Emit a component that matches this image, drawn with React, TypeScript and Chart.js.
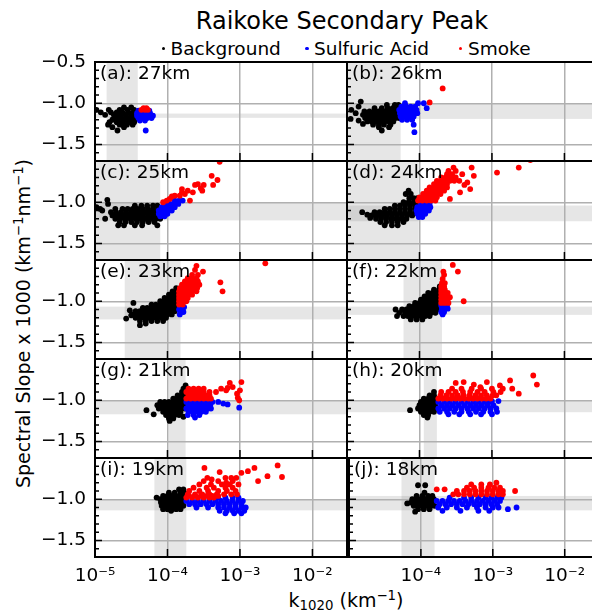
import { useEffect, useRef } from "react"
import { Chart, registerables } from "chart.js"

Chart.register(...registerables)
Chart.defaults.font.family = '"DejaVu Sans", sans-serif'

// each row: [slope, log10(k1020), log10(k1020), ...]
type Row = number[]

// ---- (a) 27 km
const bgA: Row[] = [
  [-1.05, -4.6, -4.5],
  [-1.08, -4.98, -4.81, -4.66, -4.55, -4.46],
  [-1.11, -4.92, -4.78, -4.7, -4.62, -4.54, -4.47],
  [-1.14, -4.86, -4.74, -4.66, -4.58, -4.5, -4.43],
  [-1.17, -4.72, -4.64, -4.56, -4.48, -4.42],
  [-1.2, -4.76, -4.68, -4.6, -4.52, -4.45],
  [-1.23, -4.8, -4.7, -4.62, -4.54, -4.46],
  [-1.26, -4.82, -4.66, -4.56, -4.48],
  [-1.29, -4.76, -4.6],
  [-1.33, -4.69],
]
const acidA: Row[] = [
  [-1.09, -4.4, -4.32, -4.25],
  [-1.12, -4.42, -4.36, -4.3, -4.24],
  [-1.15, -4.42, -4.36, -4.3, -4.24, -4.2],
  [-1.18, -4.4, -4.34, -4.28, -4.22],
  [-1.21, -4.38, -4.31],
  [-1.33, -4.3],
]
const smokeA: Row[] = [
  [-1.06, -4.33, -4.29],
  [-1.08, -4.36, -4.31, -4.27],
]

// ---- (b) 26 km
const bgB: Row[] = [
  [-0.98, -4.81],
  [-1.02, -4.45, -4.34, -4.29],
  [-1.04, -4.84],
  [-1.06, -4.62, -4.52, -4.44, -4.37, -4.31, -4.27],
  [-1.08, -4.94],
  [-1.1, -4.76, -4.69, -4.62, -4.56, -4.5, -4.44, -4.38, -4.32, -4.27],
  [-1.12, -4.88],
  [-1.14, -4.78, -4.72, -4.66, -4.6, -4.54, -4.48, -4.42, -4.36, -4.3],
  [-1.18, -4.75, -4.69, -4.63, -4.57, -4.51, -4.45, -4.39, -4.33, -4.28],
  [-1.19, -4.95],
  [-1.21, -4.84],
  [-1.22, -4.72, -4.66, -4.6, -4.54, -4.48, -4.42, -4.36],
  [-1.25, -4.78],
  [-1.26, -4.64, -4.56, -4.49, -4.4],
  [-1.29, -4.56, -4.42],
  [-1.33, -4.52],
]
const acidB: Row[] = [
  [-1.0, -4.2, -4.02, -3.94],
  [-1.04, -4.25, -4.18, -4.12, -4.06],
  [-1.06, -3.9],
  [-1.08, -4.28, -4.22, -4.16, -4.1, -4.04],
  [-1.12, -4.27, -4.21, -4.15, -4.09, -4.03],
  [-1.16, -4.26, -4.2, -4.14, -4.08],
  [-1.2, -4.24, -4.17, -4.1],
  [-1.26, -4.08],
  [-1.35, -4.07],
]
const smokeB: Row[] = [
  [-0.99, -3.86],
  [-0.82, -3.68],
]

// ---- (c) 25 km
const bgC: Row[] = [
  [-0.97, -4.83],
  [-1.02, -4.82],
  [-1.04, -4.45, -4.36, -4.28, -4.2, -4.14],
  [-1.06, -4.98],
  [-1.08, -4.93, -4.72, -4.62, -4.55, -4.48, -4.41, -4.34, -4.27, -4.2, -4.13],
  [-1.1, -4.9],
  [-1.12, -4.78, -4.71, -4.64, -4.57, -4.5, -4.43, -4.36, -4.29, -4.22, -4.15, -4.1],
  [-1.16, -4.76, -4.69, -4.62, -4.55, -4.48, -4.41, -4.34, -4.27, -4.2, -4.13],
  [-1.2, -4.86, -4.72, -4.65, -4.58, -4.51, -4.44, -4.37, -4.3, -4.23, -4.16, -4.1],
  [-1.24, -4.66, -4.58, -4.5, -4.42, -4.34, -4.26, -4.18],
  [-1.28, -4.68, -4.6, -4.45, -4.35, -4.14],
]
const acidC: Row[] = [
  [-0.98, -3.9, -3.84, -3.79],
  [-1.02, -4.02, -3.96, -3.9, -3.85],
  [-1.06, -4.08, -4.02, -3.96, -3.9],
  [-1.1, -4.12, -4.06, -4.0, -3.94],
  [-1.14, -4.12, -4.06, -4.0],
  [-1.17, -4.1, -4.04],
]
const smokeC: Row[] = [
  [-1.0, -4.06],
  [-0.98, -4.01, -3.69],
  [-0.96, -3.97],
  [-0.93, -3.94],
  [-0.92, -3.9, -3.83],
  [-0.9, -3.76],
  [-0.88, -3.8, -3.65],
  [-0.86, -3.72, -3.52],
  [-0.84, -3.8],
  [-0.83, -3.54],
  [-0.79, -3.62, -3.5, -3.37],
  [-0.78, -3.58],
  [-0.73, -3.31],
  [-0.68, -3.39],
  [-0.51, -3.28],
]

// ---- (d) 24 km
const bgD: Row[] = [
  [-0.86, -4.15],
  [-0.9, -4.19, -4.12],
  [-0.95, -4.14, -4.08, -4.03],
  [-1.0, -4.22, -4.15, -4.08, -4.03],
  [-1.04, -4.34, -4.27, -4.2, -4.13, -4.06, -4.01],
  [-1.08, -4.48, -4.41, -4.34, -4.27, -4.2, -4.13, -4.06, -4.01],
  [-1.12, -4.79, -4.62, -4.55, -4.48, -4.41, -4.34, -4.27, -4.2, -4.13, -4.06],
  [-1.15, -4.72],
  [-1.16, -4.66, -4.59, -4.52, -4.45, -4.38, -4.31, -4.24, -4.17, -4.1],
  [-1.19, -4.68],
  [-1.2, -4.6, -4.53, -4.46, -4.39, -4.32, -4.25, -4.18],
  [-1.24, -4.54, -4.46, -4.38, -4.3, -4.22],
  [-1.28, -4.48, -4.38, -4.3],
]
const acidD: Row[] = [
  [-1.02, -3.98, -3.92, -3.86],
  [-1.06, -4.03, -3.97, -3.91, -3.85],
  [-1.1, -4.04, -3.98, -3.92, -3.87],
  [-1.14, -4.03, -3.97, -3.92],
  [-1.18, -4.01, -3.96],
]
const smokeD: Row[] = [
  [-0.98, -4.02, -3.96, -3.9, -3.84, -3.78],
  [-0.96, -3.58],
  [-0.94, -4.0, -3.94, -3.88, -3.82, -3.76],
  [-0.9, -3.95, -3.89, -3.83, -3.77, -3.71],
  [-0.88, -3.44],
  [-0.86, -3.9, -3.84, -3.78, -3.72, -3.66],
  [-0.84, -3.3],
  [-0.82, -3.86, -3.8, -3.74, -3.68, -3.62],
  [-0.79, -3.38],
  [-0.78, -3.8, -3.74, -3.68, -3.62],
  [-0.76, -3.34],
  [-0.74, -3.76, -3.7, -3.64, -3.58, -3.52, -3.45],
  [-0.7, -3.7, -3.64, -3.57, -3.5],
  [-0.68, -3.25],
  [-0.66, -3.62, -3.55, -3.41],
  [-0.64, -2.93],
  [-0.62, -3.6, -3.5],
  [-0.58, -3.53, -3.28, -2.63],
  [-0.49, -2.47],
]

// ---- (e) 23 km
const bgE: Row[] = [
  [-0.84, -3.88],
  [-0.88, -3.93, -3.86],
  [-0.92, -3.98, -3.92, -3.86],
  [-0.96, -4.04, -3.98, -3.92, -3.86],
  [-1.0, -4.1, -4.04, -3.98, -3.92, -3.86],
  [-1.02, -4.47],
  [-1.04, -4.22, -4.16, -4.1, -4.04, -3.98, -3.92, -3.86],
  [-1.08, -4.34, -4.28, -4.22, -4.16, -4.1, -4.04, -3.98, -3.92, -3.86],
  [-1.11, -4.52],
  [-1.12, -4.44, -4.38, -4.32, -4.26, -4.2, -4.14, -4.08, -4.02, -3.96, -3.9],
  [-1.16, -4.48, -4.42, -4.36, -4.3, -4.24, -4.18, -4.12, -4.06, -4.0, -3.94],
  [-1.17, -4.5],
  [-1.2, -4.44, -4.38, -4.32, -4.26, -4.2, -4.14, -4.08, -4.02],
  [-1.21, -4.57],
  [-1.24, -4.38, -4.3, -4.22, -4.14, -4.06],
  [-1.27, -4.3],
  [-1.29, -4.38],
]
const acidE: Row[] = [
  [-1.07, -3.8, -3.77],
  [-1.1, -3.84, -3.79],
  [-1.13, -3.82, -3.78],
  [-1.16, -3.83],
]
const smokeE: Row[] = [
  [-1.04, -3.84, -3.79],
  [-1.0, -3.84, -3.79, -3.74],
  [-0.96, -3.84, -3.78, -3.72],
  [-0.92, -3.84, -3.78, -3.72, -3.66],
  [-0.88, -3.84, -3.78, -3.72, -3.66, -3.6, -3.24],
  [-0.84, -3.83, -3.77, -3.71, -3.65, -3.59],
  [-0.8, -3.8, -3.74, -3.68, -3.62, -3.56],
  [-0.77, -3.27],
  [-0.76, -3.76, -3.7, -3.64, -3.58],
  [-0.72, -3.72, -3.66, -3.6],
  [-0.68, -3.66, -3.58],
  [-0.64, -3.51],
  [-0.62, -3.62],
  [-0.57, -3.6],
  [-0.54, -2.65],
]

// ---- (f) 22 km
const bgF: Row[] = [
  [-0.82, -3.72],
  [-0.86, -3.8, -3.73],
  [-0.9, -3.88, -3.82, -3.75],
  [-0.94, -3.93, -3.87, -3.81, -3.75],
  [-0.98, -3.98, -3.92, -3.86, -3.8, -3.74],
  [-1.02, -4.06, -4.0, -3.94, -3.88, -3.82, -3.76, -3.71],
  [-1.06, -4.14, -4.08, -4.02, -3.96, -3.9, -3.84, -3.78, -3.72],
  [-1.1, -4.33, -4.24, -4.18, -4.12, -4.06, -4.0, -3.94, -3.88, -3.82, -3.76, -3.71],
  [-1.14, -4.28, -4.2, -4.14, -4.08, -4.02, -3.96, -3.9, -3.84, -3.78],
  [-1.18, -4.31, -4.22, -4.16, -4.1, -4.04, -3.98, -3.92, -3.86],
  [-1.22, -4.12, -4.04, -3.96],
]
const acidF: Row[] = [
  [-1.05, -3.7, -3.66, -3.62],
  [-1.09, -3.69, -3.65, -3.61],
  [-1.13, -3.7, -3.66],
  [-1.16, -3.68],
]
const smokeF: Row[] = [
  [-1.02, -3.7, -3.65, -3.6],
  [-1.0, -3.39],
  [-0.98, -3.7, -3.65, -3.61],
  [-0.95, -3.58],
  [-0.94, -3.7, -3.66, -3.62],
  [-0.9, -3.7, -3.65, -3.61],
  [-0.86, -3.7, -3.65],
  [-0.82, -3.7, -3.66],
  [-0.78, -3.69, -3.65],
  [-0.73, -3.68],
  [-0.68, -3.66],
  [-0.64, -3.67, -3.47],
  [-0.56, -3.54],
]

// ---- (g) 21 km
const bgG: Row[] = [
  [-0.82, -3.75],
  [-0.86, -3.78],
  [-0.9, -3.8, -3.76],
  [-0.94, -3.86, -3.8, -3.76],
  [-0.98, -3.92, -3.86, -3.8, -3.76],
  [-1.02, -4.1, -4.04, -3.98, -3.92, -3.86, -3.8, -3.76],
  [-1.06, -4.14, -4.08, -4.02, -3.96, -3.9, -3.84, -3.78],
  [-1.1, -4.12, -4.06, -4.0, -3.94, -3.88, -3.82, -3.76],
  [-1.12, -4.29],
  [-1.14, -4.06, -4.0, -3.94, -3.88, -3.82],
  [-1.17, -4.19],
  [-1.18, -4.02, -3.96, -3.9, -3.84],
  [-1.2, -3.78],
  [-1.22, -3.98, -3.92],
  [-1.25, -3.97],
]
const acidG: Row[] = [
  [-1.02, -3.74, -3.68, -3.62, -3.56, -3.5, -3.44, -3.38, -3.3],
  [-1.04, -3.23],
  [-1.05, -3.17],
  [-1.06, -3.71, -3.65, -3.59, -3.53, -3.47, -3.41],
  [-1.09, -3.01],
  [-1.1, -3.74, -3.68, -3.62, -3.56, -3.5, -3.44, -3.4],
  [-1.14, -3.71, -3.65, -3.59, -3.53, -3.47],
  [-1.18, -3.72, -3.64, -3.56],
  [-1.21, -3.62],
]
const smokeG: Row[] = [
  [-1.0, -3.01],
  [-0.98, -3.74, -3.68, -3.62, -3.56, -3.5, -3.44, -3.4],
  [-0.97, -3.03],
  [-0.94, -3.71, -3.65, -3.59, -3.53, -3.47, -3.42],
  [-0.92, -3.04],
  [-0.9, -3.74, -3.68, -3.62, -3.56, -3.5, -3.42, -3.33],
  [-0.88, -3.19, -3.0],
  [-0.86, -3.71, -3.64, -3.57, -3.5, -3.26],
  [-0.85, -3.17],
  [-0.84, -3.1],
  [-0.79, -3.14],
  [-0.78, -2.98],
]

// ---- (h) 20 km
const bgH: Row[] = [
  [-0.9, -3.8],
  [-0.94, -3.86, -3.8],
  [-0.98, -3.94, -3.88, -3.82, -3.78],
  [-1.02, -3.98, -3.92, -3.86, -3.8],
  [-1.06, -4.0, -3.94, -3.88, -3.82, -3.78],
  [-1.1, -4.02, -3.96, -3.9, -3.84, -3.78],
  [-1.12, -4.13],
  [-1.14, -3.98, -3.92, -3.86, -3.8],
  [-1.18, -3.94, -3.88],
  [-1.21, -3.89],
]
const acidH: Row[] = [
  [-1.01, -3.0, -2.91],
  [-1.02, -3.74, -3.66, -3.58, -3.5, -3.42, -3.34, -3.26, -3.18, -3.1, -3.04],
  [-1.06, -3.7, -3.62, -3.54, -3.46, -3.38, -3.3, -3.22, -3.14, -3.06, -2.98],
  [-1.1, -3.74, -3.66, -3.58, -3.5, -3.42, -3.34, -3.26, -3.18, -3.1, -3.02, -2.94],
  [-1.14, -3.72, -3.62, -3.52, -3.42, -3.32, -3.22, -3.12, -3.02, -2.93],
  [-1.17, -3.6, -3.45, -3.3, -3.15, -3.0],
]
const smokeH: Row[] = [
  [-0.98, -3.74, -3.68, -3.62, -3.56, -3.5, -3.44, -3.38, -3.32, -3.26, -3.2, -3.14, -3.08, -3.02],
  [-0.94, -3.71, -3.63, -3.55, -3.47, -3.39, -3.31, -3.23, -3.15, -3.07, -2.99, -2.94],
  [-0.92, -2.63],
  [-0.9, -3.7, -3.6, -3.5, -3.4, -3.3, -3.2, -3.1, -2.98, -2.88],
  [-0.86, -3.55, -3.42, -3.28, -3.15, -3.0, -2.85, -2.72],
  [-0.84, -3.16],
  [-0.82, -2.89],
  [-0.81, -3.25, -2.38],
  [-0.79, -3.5],
  [-0.78, -3.39, -3.07],
  [-0.76, -2.75],
  [-0.7, -2.43],
]

// ---- (i) 19 km
const bgI: Row[] = [
  [-0.88, -3.84, -3.78],
  [-0.92, -3.98, -3.9, -3.82, -3.77],
  [-0.96, -4.06, -4.0, -3.94, -3.88, -3.82, -3.77],
  [-0.98, -4.15],
  [-1.0, -4.1, -4.04, -3.98, -3.92, -3.86, -3.8],
  [-1.04, -4.09, -4.03, -3.97, -3.91, -3.85, -3.79],
  [-1.08, -4.08, -4.02, -3.96, -3.9, -3.84, -3.78],
  [-1.12, -4.06, -4.0, -3.94, -3.88, -3.82],
  [-1.14, -3.95],
]
const acidI: Row[] = [
  [-0.98, -3.3, -3.2, -3.1, -3.02],
  [-1.02, -3.74, -3.66, -3.58, -3.5, -3.42, -3.34, -3.26, -3.18, -3.1, -3.02, -2.96],
  [-1.06, -3.7, -3.62, -3.54, -3.46, -3.38, -3.3, -3.22, -3.14, -3.06, -2.98],
  [-1.1, -3.6, -3.44, -3.3, -3.22, -3.14, -3.06, -2.98, -2.92],
  [-1.14, -3.28, -3.18, -3.1, -3.02, -2.94],
  [-1.17, -3.2, -3.08, -2.98],
]
const smokeI: Row[] = [
  [-0.98, -3.74, -3.66, -3.58, -3.5, -3.42, -3.36],
  [-0.96, -3.7, -3.62, -3.54, -3.46, -3.38, -3.3],
  [-0.94, -3.72, -3.62, -3.52, -3.42, -3.32, -3.22, -3.12, -3.04],
  [-0.9, -3.7, -3.56, -3.44, -3.3, -3.18, -3.06],
  [-0.86, -3.64, -3.46, -3.36, -3.2, -3.1],
  [-0.82, -3.56, -3.4, -3.25, -3.14, -3.02],
  [-0.8, -3.19],
  [-0.78, -3.5, -3.3, -3.1, -2.75],
  [-0.76, -3.39],
  [-0.74, -3.45, -3.2, -3.12, -3.05],
  [-0.73, -2.42],
  [-0.72, -2.62],
  [-0.68, -2.98],
  [-0.67, -3.28],
  [-0.66, -2.89],
  [-0.62, -3.49, -2.8],
  [-0.59, -2.48],
]

// ---- (j) 18 km
const bgJ: Row[] = [
  [-0.83, -4.04, -3.94],
  [-0.92, -3.95],
  [-0.96, -4.06, -3.98, -3.9, -3.84],
  [-1.0, -4.12, -4.06, -4.0, -3.94, -3.88, -3.82],
  [-1.04, -4.14, -4.08, -4.02, -3.96, -3.9, -3.84],
  [-1.05, -4.19],
  [-1.08, -4.1, -4.04, -3.98, -3.92, -3.86, -3.81],
  [-1.12, -4.04, -3.96, -3.88],
  [-1.15, -4.08],
]
const acidJ: Row[] = [
  [-0.98, -3.6, -3.4, -3.3, -3.2, -3.1, -3.02, -2.94, -2.88],
  [-1.02, -3.78, -3.7, -3.62, -3.54, -3.46, -3.38, -3.3, -3.22, -3.14, -3.06, -2.98, -2.9],
  [-1.06, -3.74, -3.66, -3.58, -3.5, -3.42, -3.34, -3.26, -3.18, -3.1, -3.02, -2.94],
  [-1.1, -3.76, -3.64, -3.5, -3.36, -3.22, -3.1, -3.0, -2.92, -2.67],
  [-1.12, -2.79],
  [-1.14, -3.7, -3.45, -3.2, -3.05],
]
const smokeJ: Row[] = [
  [-0.94, -3.55, -3.48, -3.4, -3.32, -3.24, -3.16, -3.08, -3.0, -2.92, -2.86],
  [-0.9, -3.5, -3.4, -3.32, -3.24, -3.16, -3.08, -3.0, -2.92, -2.86, -2.69],
  [-0.88, -3.78, -3.67],
  [-0.86, -3.36, -3.26, -3.16, -3.06, -2.98, -2.9],
  [-0.82, -3.3, -3.16, -3.04],
  [-0.8, -2.95],
]

const panelLabels = [
  "(a): 27km", "(b): 26km", "(c): 25km", "(d): 24km", "(e): 23km",
  "(f): 22km", "(g): 21km", "(h): 20km", "(i): 19km", "(j): 18km",
]
const backgroundSets = [bgA, bgB, bgC, bgD, bgE, bgF, bgG, bgH, bgI, bgJ]
const acidSets = [acidA, acidB, acidC, acidD, acidE, acidF, acidG, acidH, acidI, acidJ]
const smokeSets = [smokeA, smokeB, smokeC, smokeD, smokeE, smokeF, smokeG, smokeH, smokeI, smokeJ]

// grey bands: log10(k1020) range and slope range
const kBands = [
  [-4.84, -4.41], [-5.1, -4.26], [-5.1, -4.1], [-5.1, -4.01], [-4.59, -3.82],
  [-4.22, -3.69], [-3.98, -3.75], [-3.94, -3.76], [-4.18, -3.74], [-4.27, -3.81],
]
const slopeBands = [
  [-1.177, -1.125], [-1.19, -1.01], [-1.22, -1.0], [-1.23, -1.04], [-1.22, -1.065],
  [-1.165, -1.065], [-1.17, -1.01], [-1.145, -1.0], [-1.135, -1.0], [-1.135, -0.96],
]

const xTicks = [1e-5, 1e-4, 1e-3, 1e-2]
const yTicks = [-1.5, -1.0, -0.5]
const yMinorTicks = [-1.6, -1.4, -1.3, -1.2, -1.1, -0.9, -0.8, -0.7, -0.6]
const X_MIN = 1e-5
const X_MAX = 3e-2
const Y_MIN = -1.7
const Y_MAX = -0.5

// layout (px)
const PLOT_LEFT = 95
const PLOT_TOP = 62
const PLOT_W = 252
const PLOT_H = 99
const PAD = 26
const SIDE = 6
const FONT = '"DejaVu Sans", sans-serif'

const SUP: Record<string, string> = { "-": "\u207b", "2": "\u00b2", "3": "\u00b3", "4": "\u2074", "5": "\u2075" }

const toPoints = (rows: Row[]) => rows.flatMap((r) => r.slice(1).map((lk) => ({ x: 10 ** lk, y: r[0] })))

function Panel({ index }: { index: number }) {
  const canvasRef = useRef<HTMLCanvasElement>(null)
  const row = Math.floor(index / 2)
  const col = index % 2
  const bottomRow = row === 4
  const xAxisH = bottomRow ? 44 : 0
  const yAxisW = col === 0 ? PLOT_LEFT - SIDE : 0
  const width = SIDE + yAxisW + PLOT_W + SIDE
  const height = PAD + PLOT_H + xAxisH + PAD
  const left = col === 0 ? 0 : PLOT_LEFT + PLOT_W - SIDE
  const top = PLOT_TOP + row * PLOT_H - PAD

  useEffect(() => {
    if (!canvasRef.current) return
    const kb = kBands[index]
    const sb = slopeBands[index]

    const decor = {
      id: "panelDecor",
      beforeDraw(chart: Chart) {
        const { ctx, chartArea: a } = chart
        const x = chart.scales.x
        const y = chart.scales.y
        ctx.save()
        ctx.beginPath()
        ctx.rect(a.left, a.top, a.width, a.height)
        ctx.clip()
        ctx.fillStyle = "rgba(128,128,128,0.2)"
        const x0 = x.getPixelForValue(10 ** kb[0])
        const x1 = x.getPixelForValue(10 ** kb[1])
        ctx.fillRect(x0, a.top, x1 - x0, a.height)
        const y0 = y.getPixelForValue(sb[1])
        const y1 = y.getPixelForValue(sb[0])
        ctx.fillRect(a.left, y0, a.width, y1 - y0)
        ctx.restore()
      },
      afterDraw(chart: Chart) {
        const { ctx, chartArea: a } = chart
        const x = chart.scales.x
        const y = chart.scales.y
        ctx.save()
        ctx.strokeStyle = "#000"
        ctx.lineWidth = 1.5
        ctx.beginPath()
        for (const v of yTicks) {
          const py = y.getPixelForValue(v)
          ctx.moveTo(a.left, py)
          ctx.lineTo(a.left + 7, py)
        }
        for (const v of yMinorTicks) {
          const py = y.getPixelForValue(v)
          ctx.moveTo(a.left, py)
          ctx.lineTo(a.left + 4, py)
        }
        for (const v of xTicks) {
          const px = x.getPixelForValue(v)
          ctx.moveTo(px, a.bottom)
          ctx.lineTo(px, a.bottom - 8)
        }
        ctx.stroke()
        ctx.lineWidth = 2
        ctx.strokeRect(a.left, a.top, a.width, a.height)
        ctx.fillStyle = "#000"
        ctx.font = `18.5px ${FONT}`
        ctx.textBaseline = "middle"
        ctx.textAlign = "left"
        ctx.fillText(panelLabels[index], a.left + 5, a.top + 12)
        ctx.restore()
      },
    }

    const chart = new Chart(canvasRef.current, {
      type: "scatter",
      data: {
        datasets: [
          { label: "Smoke", data: toPoints(smokeSets[index]), backgroundColor: "#ff0000", clip: 0 },
          { label: "Sulfuric Acid", data: toPoints(acidSets[index]), backgroundColor: "#0000ff", clip: 0 },
          { label: "Background", data: toPoints(backgroundSets[index]), backgroundColor: "#000000", clip: 0 },
        ],
      },
      options: {
        responsive: false,
        animation: false,
        events: [],
        layout: { padding: { left: SIDE, right: SIDE, top: PAD, bottom: PAD } },
        elements: { point: { radius: 2.9, hoverRadius: 2.9, borderWidth: 0 } },
        plugins: { legend: { display: false }, tooltip: { enabled: false } },
        scales: {
          x: {
            type: "logarithmic",
            min: X_MIN,
            max: X_MAX,
            afterBuildTicks: (s) => {
              s.ticks = xTicks.map((v) => ({ value: v }))
            },
            afterFit: (s) => {
              s.height = xAxisH
            },
            grid: { color: "#b0b0b0", lineWidth: 1.5, drawTicks: false },
            border: { display: false },
            ticks: {
              display: bottomRow,
              autoSkip: false,
              maxRotation: 0,
              padding: 8,
              color: "#000",
              font: { size: 18.5, family: FONT },
              callback: (v) => {
                const e = Math.round(Math.log10(Number(v)))
                if (col === 1 && e === -5) return ""
                return "10" + String(e).split("").map((c) => SUP[c] ?? c).join("")
              },
            },
          },
          y: {
            type: "linear",
            min: Y_MIN,
            max: Y_MAX,
            afterBuildTicks: (s) => {
              s.ticks = yTicks.map((v) => ({ value: v }))
            },
            afterFit: (s) => {
              s.width = yAxisW
            },
            grid: { color: "#b0b0b0", lineWidth: 1.5, drawTicks: false },
            border: { display: false },
            ticks: {
              display: col === 0,
              padding: 9,
              color: "#000",
              font: { size: 18.5, family: FONT },
              callback: (v) => {
                const n = Number(v)
                if (row > 0 && n > -0.75) return ""
                return "\u2212" + Math.abs(n).toFixed(1)
              },
            },
          },
        },
      },
      plugins: [decor],
    })

    return () => {
      chart.destroy()
    }
  }, [index])

  return (
    <canvas
      ref={canvasRef}
      width={width}
      height={height}
      style={{ position: "absolute", left, top, width, height }}
    />
  )
}

const supStyle = { fontSize: "0.7em", verticalAlign: "0.5em", lineHeight: 0 }
const subStyle = { fontSize: "0.7em", verticalAlign: "-0.25em", lineHeight: 0 }

const legendItems = [
  { label: "Background", color: "#000000", dotX: 163.5, textX: 170.5 },
  { label: "Sulfuric Acid", color: "#0000ff", dotX: 307, textX: 314 },
  { label: "Smoke", color: "#ff0000", dotX: 460.5, textX: 468 },
]

export default function App() {
  return (
    <div
      style={{
        position: "absolute",
        left: 0,
        top: 0,
        width: 592,
        height: 614,
        overflow: "hidden",
        background: "#fff",
        color: "#000",
        fontFamily: FONT,
      }}
    >
      <div
        style={{
          position: "absolute",
          left: 342,
          top: 7,
          transform: "translateX(-50%)",
          fontSize: 24,
          lineHeight: "28px",
          whiteSpace: "nowrap",
        }}
      >
        Raikoke Secondary Peak
      </div>
      {legendItems.map((it) => (
        <div key={it.label}>
          <span
            style={{
              position: "absolute",
              left: it.dotX - 1.8,
              top: 48.5 - 1.8,
              width: 3.6,
              height: 3.6,
              borderRadius: "50%",
              background: it.color,
            }}
          />
          <span
            style={{
              position: "absolute",
              left: it.textX,
              top: 37.5,
              fontSize: 18.5,
              lineHeight: "22px",
              whiteSpace: "nowrap",
            }}
          >
            {it.label}
          </span>
        </div>
      ))}
      <div
        style={{
          position: "absolute",
          left: 12,
          top: 488,
          transformOrigin: "0 0",
          transform: "rotate(-90deg)",
          fontSize: 19,
          lineHeight: "22px",
          whiteSpace: "nowrap",
        }}
      >
        Spectral Slope x 1000 (km<sup style={supStyle}>{"\u22121"}</sup>nm<sup style={supStyle}>{"\u22121"}</sup>)
      </div>
      <div
        style={{
          position: "absolute",
          left: 346,
          top: 589,
          transform: "translateX(-50%)",
          fontSize: 19,
          lineHeight: "22px",
          whiteSpace: "nowrap",
        }}
      >
        k<sub style={subStyle}>1020</sub> (km<sup style={supStyle}>{"\u22121"}</sup>)
      </div>
      {panelLabels.map((_, i) => (
        <Panel key={i} index={i} />
      ))}
    </div>
  )
}
